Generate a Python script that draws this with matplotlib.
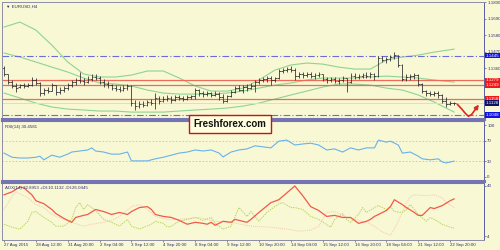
import numpy as np
import matplotlib
matplotlib.use('Agg')
import matplotlib.pyplot as plt

# EURUSD H4 bars, 27 Aug 2015 04:00 .. 23 Sep 2015 00:00
bar_high = [1.1375, 1.1322, 1.1282, 1.1262, 1.1255, 1.1262, 1.1262, 1.1302, 1.1295, 1.1268,
            1.1228, 1.1235, 1.1262, 1.1248, 1.1235, 1.1242, 1.1262, 1.1282, 1.1295, 1.1335,
            1.1295, 1.1308, 1.1322, 1.1322, 1.1308, 1.1288, 1.1275, 1.1255, 1.1248, 1.1242,
            1.1248, 1.1255, 1.1248, 1.1148, 1.1142, 1.1142, 1.1148, 1.1155, 1.1195, 1.1175,
            1.1175, 1.1182, 1.1175, 1.1182, 1.1182, 1.1175, 1.1182, 1.1182, 1.1228, 1.1222,
            1.1208, 1.1208, 1.1202, 1.1208, 1.1202, 1.1188, 1.1182, 1.1215, 1.1242, 1.1248,
            1.1248, 1.1255, 1.1262, 1.1282, 1.1295, 1.1302, 1.1308, 1.1308, 1.1302, 1.1355,
            1.1362, 1.1368, 1.1375, 1.1362, 1.1335, 1.1335, 1.1335, 1.1335, 1.1328, 1.1335,
            1.1322, 1.1302, 1.1302, 1.1302, 1.1295, 1.1308, 1.1295, 1.1328, 1.1328, 1.1322,
            1.1328, 1.1335, 1.1335, 1.1328, 1.1442, 1.1442, 1.1435, 1.1448, 1.1468, 1.1448,
            1.1388, 1.1322, 1.1322, 1.1328, 1.1322, 1.1262, 1.1215, 1.1208, 1.1208, 1.1208,
            1.1188, 1.1168, 1.1142, 1.1135]
bar_low = [1.1308, 1.1255, 1.1228, 1.1202, 1.1228, 1.1228, 1.1235, 1.1242, 1.1248, 1.1175,
           1.1182, 1.1195, 1.1208, 1.1182, 1.1188, 1.1202, 1.1215, 1.1235, 1.1248, 1.1262,
           1.1248, 1.1262, 1.1275, 1.1282, 1.1255, 1.1235, 1.1228, 1.1215, 1.1208, 1.1202,
           1.1208, 1.1215, 1.1108, 1.1082, 1.1095, 1.1102, 1.1108, 1.1115, 1.1088, 1.1122,
           1.1135, 1.1142, 1.1128, 1.1142, 1.1148, 1.1142, 1.1148, 1.1155, 1.1155, 1.1175,
           1.1168, 1.1175, 1.1168, 1.1175, 1.1148, 1.1128, 1.1135, 1.1168, 1.1195, 1.1208,
           1.1195, 1.1208, 1.1222, 1.1202, 1.1255, 1.1268, 1.1268, 1.1248, 1.1268, 1.1288,
           1.1328, 1.1335, 1.1335, 1.1282, 1.1295, 1.1295, 1.1302, 1.1295, 1.1288, 1.1302,
           1.1275, 1.1262, 1.1268, 1.1262, 1.1255, 1.1268, 1.1202, 1.1262, 1.1288, 1.1288,
           1.1295, 1.1295, 1.1295, 1.1282, 1.1302, 1.1402, 1.1395, 1.1408, 1.1422, 1.1368,
           1.1275, 1.1275, 1.1282, 1.1288, 1.1242, 1.1195, 1.1175, 1.1175, 1.1175, 1.1162,
           1.1128, 1.1102, 1.1115, 1.1115]
bar_open = [1.1362, 1.1322, 1.1268, 1.1242, 1.1235, 1.1248, 1.1242, 1.1248, 1.1282, 1.1262,
            1.1195, 1.1215, 1.1208, 1.1248, 1.1202, 1.1215, 1.1228, 1.1248, 1.1268, 1.1282,
            1.1275, 1.1268, 1.1288, 1.1302, 1.1295, 1.1268, 1.1255, 1.1248, 1.1228, 1.1222,
            1.1215, 1.1228, 1.1242, 1.1128, 1.1108, 1.1122, 1.1115, 1.1135, 1.1128, 1.1162,
            1.1142, 1.1155, 1.1162, 1.1148, 1.1168, 1.1162, 1.1155, 1.1168, 1.1175, 1.1215,
            1.1195, 1.1188, 1.1195, 1.1182, 1.1188, 1.1168, 1.1142, 1.1175, 1.1202, 1.1228,
            1.1215, 1.1235, 1.1228, 1.1242, 1.1268, 1.1282, 1.1288, 1.1295, 1.1282, 1.1295,
            1.1342, 1.1348, 1.1355, 1.1348, 1.1308, 1.1322, 1.1315, 1.1322, 1.1308, 1.1315,
            1.1322, 1.1288, 1.1282, 1.1288, 1.1275, 1.1282, 1.1295, 1.1268, 1.1308, 1.1302,
            1.1308, 1.1315, 1.1308, 1.1322, 1.1308, 1.1428, 1.1415, 1.1422, 1.1435, 1.1448,
            1.1382, 1.1288, 1.1302, 1.1308, 1.1315, 1.1255, 1.1208, 1.1195, 1.1188, 1.1195,
            1.1182, 1.1142, 1.1122, 1.1128]
bar_close = [1.1322, 1.1268, 1.1242, 1.1228, 1.1248, 1.1242, 1.1248, 1.1282, 1.1262, 1.1195,
             1.1215, 1.1208, 1.1248, 1.1202, 1.1215, 1.1228, 1.1248, 1.1268, 1.1282, 1.1275,
             1.1268, 1.1288, 1.1302, 1.1295, 1.1268, 1.1255, 1.1248, 1.1228, 1.1222, 1.1215,
             1.1228, 1.1242, 1.1128, 1.1108, 1.1122, 1.1115, 1.1135, 1.1128, 1.1162, 1.1142,
             1.1155, 1.1162, 1.1148, 1.1168, 1.1162, 1.1155, 1.1168, 1.1175, 1.1215, 1.1195,
             1.1188, 1.1195, 1.1182, 1.1188, 1.1168, 1.1142, 1.1175, 1.1202, 1.1228, 1.1215,
             1.1235, 1.1228, 1.1242, 1.1268, 1.1282, 1.1288, 1.1295, 1.1282, 1.1295, 1.1342,
             1.1348, 1.1355, 1.1348, 1.1308, 1.1322, 1.1315, 1.1322, 1.1308, 1.1315, 1.1322,
             1.1288, 1.1282, 1.1288, 1.1275, 1.1282, 1.1295, 1.1268, 1.1308, 1.1302, 1.1308,
             1.1315, 1.1308, 1.1322, 1.1308, 1.1428, 1.1415, 1.1422, 1.1435, 1.1448, 1.1382,
             1.1288, 1.1302, 1.1308, 1.1315, 1.1255, 1.1208, 1.1195, 1.1188, 1.1195, 1.1182,
             1.1142, 1.1122, 1.1128, 1.1128]

# Bollinger bands, read every 4 bars
bb_idx = [0, 4, 8, 12, 16, 20, 24, 28, 32, 36, 40, 44, 48, 52, 56, 60, 64, 68, 72, 76,
          80, 84, 88, 92, 96, 100, 104, 108, 113]
bb_upper = [1.1635, 1.1668, 1.1615, 1.1515, 1.1402, 1.1322, 1.1302, 1.1302, 1.1315, 1.1342,
            1.1342, 1.1295, 1.1242, 1.1208, 1.1208, 1.1228, 1.1282, 1.1348, 1.1382, 1.1395,
            1.1388, 1.1368, 1.1355, 1.1355, 1.1415, 1.1435, 1.1448, 1.1468, 1.1488]
bb_middle = [1.1462, 1.1435, 1.1402, 1.1368, 1.1335, 1.1295, 1.1262, 1.1255, 1.1242, 1.1215,
             1.1195, 1.1188, 1.1188, 1.1188, 1.1195, 1.1208, 1.1228, 1.1248, 1.1262, 1.1282,
             1.1295, 1.1295, 1.1295, 1.1302, 1.1308, 1.1302, 1.1295, 1.1282, 1.1268]
bb_lower = [1.1195, 1.1162, 1.1128, 1.1102, 1.1088, 1.1082, 1.1075, 1.1075, 1.1068, 1.1068,
            1.1068, 1.1075, 1.1082, 1.1088, 1.1095, 1.1108, 1.1128, 1.1155, 1.1182, 1.1208,
            1.1235, 1.1255, 1.1255, 1.1248, 1.1228, 1.1215, 1.1182, 1.1135, 1.1068]

# support / resistance levels
blue_levels = [1.1445, 1.1048]
red_levels = [1.1279, 1.1249, 1.1158]
last_price = 1.1128
forecast_idx = [113.8, 114.8, 115.8, 116.6, 117.4, 118.3]
forecast_val = [1.1120, 1.1092, 1.1060, 1.1040, 1.1052, 1.1085]

price_ticks = [1.1800, 1.1690, 1.1580, 1.1470, 1.1360]

rsi_idx = [0, 2, 4, 6, 8, 9, 10, 12, 14, 16, 17, 19, 21, 22, 23, 25, 27, 29, 31, 32,
           34, 36, 38, 40, 42, 44, 46, 48, 50, 52, 54, 55, 57, 59, 61, 63, 65, 67, 69, 71,
           73, 75, 77, 79, 81, 83, 85, 87, 89, 91, 93, 94, 96, 97, 99, 100, 102, 104, 105, 107,
           109, 110, 111, 113]
rsi_val = [46, 38, 36.5, 36.5, 38, 40, 33, 42, 38, 44, 48, 50, 52, 56, 50, 48, 44, 44, 48, 31,
           31, 31, 35, 38, 42, 46, 48, 52, 50, 52, 46, 38.5, 48, 52, 54, 60, 58, 56, 69, 71,
           61.5, 63.5, 65, 61.5, 52, 54, 48, 56, 52, 56, 56, 71, 67, 69, 61.5, 46, 48, 40, 35, 33,
           35, 29, 27, 30.5]

adx_idx = [0, 2, 4, 5, 7, 8, 10, 12, 13, 15, 17, 18, 20, 21, 23, 25, 27, 29, 31, 32,
           34, 36, 37, 38, 40, 42, 44, 46, 48, 50, 51, 52, 53, 55, 57, 58, 61, 62, 64, 67,
           69, 71, 73, 75, 77, 79, 81, 83, 85, 87, 89, 91, 92, 93, 94, 96, 97, 98, 100, 101,
           103, 104, 105, 106, 107, 108, 110, 112, 113]
adx_val = [36.1, 38.4, 42.2, 41.5, 36.1, 31.5, 29.2, 24.7, 21.6, 17.8, 14.7, 18.5, 20.1, 20.8, 24.7,
           23.1, 20.8, 22.4, 20.8, 23.1, 26.2, 26.9, 24.7, 20.8, 19.3, 18.5, 16.2, 13.2, 14.7, 13.9,
           13.2, 14.7, 12.4, 15.5, 14.7, 17.0, 14.7, 17.0, 22.4, 30.0, 32.3, 37.6, 43.0, 35.4, 26.9,
           23.9, 19.3, 20.1, 18.5, 18.5, 13.9, 15.5, 17.0, 19.3, 20.8, 23.9, 26.9, 32.3, 28.5, 26.2,
           22.4, 20.1, 20.1, 23.1, 26.2, 25.4, 27.7, 31.5, 32.9]

pdi_idx = [0, 2, 4, 6, 7, 8, 10, 12, 13, 15, 16, 17, 18, 19, 20, 21, 23, 25, 27, 29,
           31, 32, 34, 37, 38, 40, 41, 42, 44, 48, 50, 52, 53, 55, 57, 59, 61, 62, 64, 66,
           67, 69, 70, 72, 73, 75, 77, 79, 82, 83, 85, 86, 87, 89, 90, 91, 93, 94, 96, 97,
           98, 100, 101, 102, 103, 104, 106, 107, 108, 110, 112, 113]
pdi_val = [13.2, 10.9, 9.4, 15.5, 22.4, 23.1, 18.5, 14.7, 11.7, 11.7, 13.9, 17.0, 26.2, 30.0, 24.7,
           28.5, 23.9, 17.0, 14.7, 11.7, 17.0, 11.7, 9.4, 13.2, 15.5, 13.9, 10.9, 11.7, 15.5, 18.5,
           16.2, 18.5, 13.9, 9.4, 11.7, 26.2, 19.3, 23.1, 15.5, 22.4, 24.7, 29.2, 30.0, 26.2, 26.2,
           24.7, 19.3, 17.0, 10.9, 17.0, 21.6, 17.0, 14.7, 20.8, 26.2, 22.4, 26.2, 27.7, 24.7, 26.9,
           23.1, 22.4, 24.7, 28.5, 24.7, 20.8, 15.5, 18.5, 17.0, 13.2, 10.9, 10.1]

mdi_idx = [0, 2, 3, 6, 8, 10, 12, 15, 17, 20, 22, 25, 27, 29, 32, 34, 36, 38, 41, 44,
           49, 53, 57, 62, 67, 71, 74, 77, 79, 81, 83, 86, 88, 91, 93, 95, 97, 98, 100, 101,
           102, 103, 106, 108, 110, 111, 113]
mdi_val = [24.7, 34.6, 38.4, 33.8, 28.5, 26.2, 20.8, 17.0, 14.7, 11.7, 13.2, 14.7, 16.2, 19.3, 26.9,
           28.5, 24.7, 19.3, 17.0, 17.0, 18.5, 15.5, 14.7, 11.7, 10.9, 9.4, 7.8, 8.6, 11.7, 22.4,
           23.1, 18.5, 17.0, 14.7, 11.7, 7.1, 4.8, 9.4, 22.4, 30.0, 34.6, 36.1, 35.4, 36.1, 33.8,
           30.0, 26.2]

date_labels = ['27 Aug 2015', '28 Aug 12:00', '31 Aug 20:00', '2 Sep 04:00', '3 Sep 12:00',
               '4 Sep 20:00', '8 Sep 04:00', '9 Sep 12:00', '10 Sep 20:00', '14 Sep 04:00',
               '15 Sep 12:00', '16 Sep 20:00', '18 Sep 04:00', '21 Sep 12:00', '22 Sep 20:00']

plt.rcParams['font.family'] = ['Liberation Sans', 'DejaVu Sans']

bg = '#f8f8d4'
txt = '#303078'
sep = '#7474b4'
fs = 3.2

fig = plt.figure(figsize=(5, 2.5), dpi=100)
fig.patch.set_facecolor(bg)
ax1 = fig.add_axes([0.004, 0.524, 0.964, 0.468])
ax2 = fig.add_axes([0.004, 0.276, 0.964, 0.24])
ax3 = fig.add_axes([0.004, 0.04, 0.964, 0.228])

for ax in (ax1, ax2, ax3):
    ax.set_facecolor(bg)
    ax.set_xlim(-0.5, 120.5)
    ax.yaxis.tick_right()
    ax.tick_params(axis='y', length=1.5, width=0.4, labelsize=fs, colors=txt, pad=0.8)
    for s in ax.spines.values():
        s.set_color('#8c8ca8')
        s.set_linewidth(0.7)
    ax.spines['right'].set_color('#5c5ca8')
for ax in (ax1, ax2):
    ax.set_xticks([])
    ax.spines['bottom'].set_color(sep)
    ax.spines['bottom'].set_linewidth(2.2)
for ax in (ax2, ax3):
    ax.spines['top'].set_color(sep)
    ax.spines['top'].set_linewidth(1.5)

# main price panel
idx = np.arange(len(bar_close))
ax1.set_ylim(1.1022, 1.1802)
ax1.set_yticks(price_ticks)
ax1.set_yticklabels([f'{v:.4f}' for v in price_ticks])

ax1.plot(bb_idx, bb_upper, color='#8fd394', lw=0.8)
ax1.plot(bb_idx, bb_middle, color='#8fd394', lw=0.8)
ax1.plot(bb_idx, bb_lower, color='#8fd394', lw=0.8)

for v in blue_levels:
    ax1.axhline(v, color='#6c6cd8', lw=0.8, ls=(0, (6, 2, 1, 2)))
for v in red_levels:
    ax1.axhline(v, color='#f06a58', lw=0.9)
ax1.axhline(last_price, color='#dcdcd0', lw=0.7)

ax1.vlines(idx, bar_low, bar_high, color='#282828', lw=0.55)
ax1.hlines(bar_open, idx - 0.45, idx, color='#282828', lw=0.55)
ax1.hlines(bar_close, idx, idx + 0.45, color='#282828', lw=0.55)

ax1.plot(forecast_idx, forecast_val, color='#e0281c', lw=1.2, solid_capstyle='round')
ax1.annotate('', xy=(119.2, 1.1118), xytext=(forecast_idx[-1], forecast_val[-1]),
             arrowprops=dict(arrowstyle='-|>', color='#e0281c', lw=1.2,
                             mutation_scale=6, shrinkA=0, shrinkB=0))

boxes = [(blue_levels[0], '#1010e8'), (red_levels[0], '#f01818'), (red_levels[1], '#f01818'),
         (red_levels[2], '#f01818'), (last_price, '#101060'), (blue_levels[1], '#1010e8')]
for v, c in boxes:
    ax1.text(1.003, v, f'{v:.4f}', transform=ax1.get_yaxis_transform(), fontsize=fs,
             color='white', va='center', ha='left', clip_on=False, zorder=5,
             bbox=dict(boxstyle='square,pad=0.15', fc=c, ec='none'))

ax1.text(0.008, 0.975, '\u25bc EURUSD,H4', transform=ax1.transAxes, fontsize=fs,
         color=txt, va='top', ha='left')

# RSI panel
ax2.set_ylim(-7.7, 107.7)
ax2.set_yticks([100, 70, 30, 0])
for v in (70, 30):
    ax2.axhline(v, color='#c8c8a8', lw=0.6, ls=(0, (2, 2)))
ax2.plot(rsi_idx, rsi_val, color='#68b2ec', lw=0.8)
ax2.text(0.006, 0.93, 'RSI(14) 30.4581', transform=ax2.transAxes, fontsize=fs,
         color=txt, va='top', ha='left')

# ADX panel
ax3.set_ylim(0.94, 45.3)
ax3.set_yticks([43, 4])
ax3.plot(mdi_idx, mdi_val, color='#f4c8b4', lw=0.7, ls=(0, (1, 1)))
ax3.plot(pdi_idx, pdi_val, color='#b8d660', lw=0.7, ls=(0, (1.5, 1)))
ax3.plot(adx_idx, adx_val, color='#f25a48', lw=0.9)
ax3.text(0.006, 0.95, 'ADX(14) 32.8953 +DI:10.1132 -DI:26.0445', transform=ax3.transAxes,
         fontsize=fs, color=txt, va='top', ha='left')

ax3.set_xticks(range(0, 8 * len(date_labels), 8))
ax3.set_xticklabels(date_labels)
ax3.tick_params(axis='x', length=1.5, width=0.4, labelsize=fs, colors=txt, pad=0.8)
for lbl in ax3.get_xticklabels():
    lbl.set_ha('left')

fig.text(0.46, 0.504, 'Freshforex.com', fontsize=7, fontweight='bold',
         color='#101010', ha='center', va='center', zorder=10,
         bbox=dict(boxstyle='square,pad=0.45', fc='#ffffe0', ec='#d01010', lw=1.0))

fig.savefig('out.png', dpi=100, facecolor=bg)
